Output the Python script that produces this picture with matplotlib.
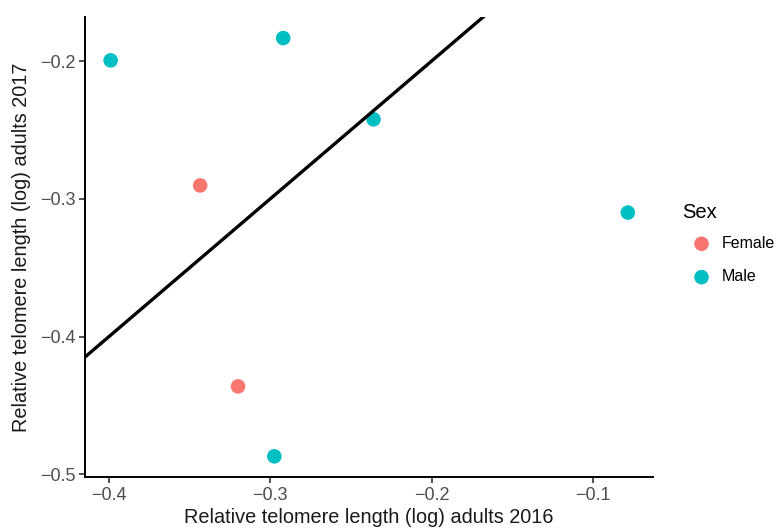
import matplotlib
matplotlib.use("Agg")
import matplotlib.pyplot as plt
import numpy as np

plt.rcParams['font.family'] = ['Liberation Sans', 'DejaVu Sans']

# Data
sex = ["Male", "Male", "Female", "Male", "Male", "Female", "Male"]
x2016 = [-0.399, -0.292, -0.3435, -0.236, -0.0783, -0.320, -0.2975]
y2017 = [-0.1995, -0.1833, -0.2903, -0.2423, -0.310, -0.4362, -0.487]
line_slope = 1.0
line_intercept = 0.0
categories = ["Female", "Male"]
colors = {"Female": "#F8766D", "Male": "#00BFC4"}
xticks = [-0.4, -0.3, -0.2, -0.1]
yticks = [-0.5, -0.4, -0.3, -0.2]

fig = plt.figure(figsize=(7.77, 5.30), dpi=100)
ax = fig.add_axes([85/777, 1-477/530, (653-85)/777, (477-17)/530])

xlim = (-0.4149, -0.0627)
ylim = (-0.502, -0.168)

xs = np.array(xlim)
ax.plot(xs, line_slope*xs + line_intercept, color='black', lw=2.4, zorder=3,
        solid_capstyle='butt')

for cat in categories:
    px = [a for a, s in zip(x2016, sex) if s == cat]
    py = [b for b, s in zip(y2017, sex) if s == cat]
    ax.scatter(px, py, s=110, color=colors[cat], label=cat, zorder=2,
               edgecolors='none')

ax.set_xlim(*xlim)
ax.set_ylim(*ylim)
ax.set_xticks(xticks)
ax.set_yticks(yticks)
ax.set_xticklabels(["\u22120.4", "\u22120.3", "\u22120.2", "\u22120.1"])
ax.set_yticklabels(["\u22120.5", "\u22120.4", "\u22120.3", "\u22120.2"])
for side in ['top', 'right']:
    ax.spines[side].set_visible(False)
for side in ['left', 'bottom']:
    ax.spines[side].set_linewidth(1.4)
    ax.spines[side].set_color('black')
ax.tick_params(axis='both', length=4, width=1.2, color='#333333',
               labelcolor='#4D4D4D', labelsize=13, pad=3)

ax.set_xlabel("Relative telomere length (log) adults 2016", fontsize=14.3,
              color='#1a1a1a', labelpad=3)
ax.set_ylabel("Relative telomere length (log) adults 2017", fontsize=14.3,
              color='#1a1a1a', labelpad=6)

leg = fig.legend(*ax.get_legend_handles_labels(), loc='upper left',
                 bbox_to_anchor=(676/777, 1-197/530), frameon=False,
                 title="Sex", fontsize=11.5, title_fontsize=14.5,
                 handlelength=2.4, handletextpad=0.05, labelspacing=1.15,
                 markerscale=1.0, alignment='left', borderaxespad=0)
try:
    leg._legend_box.sep = 0.85 * 11.5
except Exception:
    pass

fig.savefig("out.png", dpi=100)
